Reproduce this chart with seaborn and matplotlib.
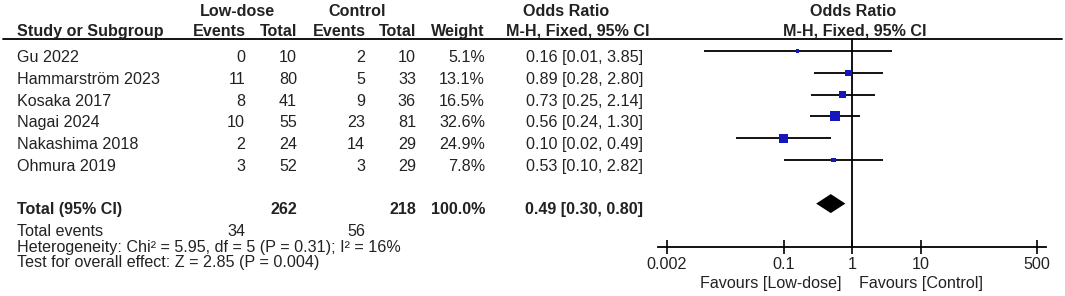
import matplotlib
matplotlib.use("Agg")
import matplotlib.pyplot as plt
import seaborn as sns
import pandas as pd
import numpy as np

# ---------------- data ----------------
studies = ["Gu 2022", "Hammarström 2023", "Kosaka 2017", "Nagai 2024",
           "Nakashima 2018", "Ohmura 2019"]
ld_events = [0, 11, 8, 10, 2, 3]
ld_total = [10, 80, 41, 55, 24, 52]
ctl_events = [2, 5, 9, 23, 14, 3]
ctl_total = [10, 33, 36, 81, 29, 29]
weights = [5.1, 13.1, 16.5, 32.6, 24.9, 7.8]
or_vals = [0.16, 0.89, 0.73, 0.56, 0.10, 0.53]
ci_low = [0.007, 0.28, 0.25, 0.24, 0.02, 0.10]
ci_high = [3.85, 2.80, 2.14, 1.30, 0.49, 2.82]

total_ld, total_ctl = 262, 218
total_ev_ld, total_ev_ctl = 34, 56
total_weight = 100.0
total_or, total_lo, total_hi = 0.49, 0.30, 0.80
hetero_text = "Heterogeneity: Chi² = 5.95, df = 5 (P = 0.31); I² = 16%"
overall_text = "Test for overall effect: Z = 2.85 (P = 0.004)"
tick_vals = [0.002, 0.1, 1, 10, 500]
tick_labels = ["0.002", "0.1", "1", "10", "500"]
fav_left, fav_right = "Favours [Low-dose]", "Favours [Control]"

# ---------------- style ----------------
sns.set_style("white")
plt.rcParams["font.family"] = ["Liberation Sans", "DejaVu Sans"]
FS = 11.6
TXT = "#222222"
BLUE = "#1616BE"

W, H = 1065, 296
fig = plt.figure(figsize=(W / 100, H / 100), dpi=100)

# text layer in pixel coordinates
ax_t = fig.add_axes([0, 0, 1, 1])
ax_t.set_xlim(0, W)
ax_t.set_ylim(H, 0)
ax_t.axis("off")

ROW0, STEP = 51.0, 21.8
def row_px(i):
    return ROW0 + STEP * i

n = len(studies)
rows = list(range(n))
total_row = n + 1

# forest axes
top_px, bot_px = 39, 247
left_px, right_px = 658, 1046
ax_f = fig.add_axes([left_px / W, (H - bot_px) / H, (right_px - left_px) / W,
                     (bot_px - top_px) / H])
ax_f.patch.set_alpha(0)
ax_f.set_xscale("log")
ppd = 68.5  # pixels per decade
c1 = 852
ax_f.set_xlim(10 ** ((left_px - c1) / ppd), 10 ** ((right_px - c1) / ppd))
ax_f.set_ylim((bot_px - ROW0) / STEP, (top_px - ROW0) / STEP)
for s in ["top", "left", "right"]:
    ax_f.spines[s].set_visible(False)
ax_f.spines["bottom"].set_linewidth(1.3)
ax_f.spines["bottom"].set_color("black")
ax_f.set_xticks(tick_vals)
ax_f.set_xticklabels(tick_labels, fontsize=FS, color=TXT)
ax_f.minorticks_off()
ax_f.tick_params(axis="x", direction="inout", length=10, width=1.2,
                 color="black", pad=2, bottom=True)
ax_f.set_yticks([])

# vertical line of no effect
ax_f.axvline(1, color="black", lw=1.3, zorder=1)
# CI lines
ax_f.hlines(rows, ci_low, ci_high, color="black", lw=1.3, zorder=2)
# squares
df = pd.DataFrame({"or": or_vals, "row": rows, "w": weights})
k = 1.59
sns.scatterplot(data=df, x="or", y="row", size="w",
                sizes=(k * min(weights), k * max(weights)),
                marker="s", color=BLUE, linewidth=0, legend=False,
                ax=ax_f, zorder=3)
ax_f.set_xlabel("")
ax_f.set_ylabel("")
# diamond
hh = 9.5 / STEP
ax_f.fill([total_lo, total_or, total_hi, total_or],
          [total_row, total_row - hh, total_row, total_row + hh],
          color="black", lw=0, zorder=3)

# header line
ax_t.plot([3, 1062], [39, 39], color="black", lw=1.3)

def t(x, y, s, ha="left", bold=False):
    ax_t.text(x, y, s, ha=ha, va="baseline", fontsize=FS, color=TXT,
              fontweight="bold" if bold else "normal")

# headers
t(237, 16, "Low-dose", "center", True)
t(357, 16, "Control", "center", True)
t(566, 16, "Odds Ratio", "center", True)
t(853, 16, "Odds Ratio", "center", True)
t(17, 36, "Study or Subgroup", "left", True)
t(246, 36, "Events", "right", True)
t(297, 36, "Total", "right", True)
t(366, 36, "Events", "right", True)
t(416, 36, "Total", "right", True)
t(485, 36, "Weight", "right", True)
t(578, 36, "M-H, Fixed, 95% CI", "center", True)
t(855, 36, "M-H, Fixed, 95% CI", "center", True)

# study rows
for i in rows:
    y = row_px(i) + 11
    t(17, y, studies[i])
    t(245, y, f"{ld_events[i]}", "right")
    t(297, y, f"{ld_total[i]}", "right")
    t(365, y, f"{ctl_events[i]}", "right")
    t(416, y, f"{ctl_total[i]}", "right")
    t(485, y, f"{weights[i]:.1f}%", "right")
    t(643, y, f"{or_vals[i]:.2f} [{ci_low[i]:.2f}, {ci_high[i]:.2f}]", "right")

# total row
yt = row_px(total_row) + 10
t(17, yt, "Total (95% CI)", "left", True)
t(297, yt, f"{total_ld}", "right", True)
t(416, yt, f"{total_ctl}", "right", True)
t(485, yt, f"{total_weight:.1f}%", "right", True)
t(643, yt, f"{total_or:.2f} [{total_lo:.2f}, {total_hi:.2f}]", "right", True)

t(17, 236, "Total events")
t(245, 236, f"{total_ev_ld}", "right")
t(365, 236, f"{total_ev_ctl}", "right")
t(17, 252, hetero_text)
t(17, 267, overall_text)

t(842, 288, fav_left, "right")
t(859, 288, fav_right, "left")

fig.savefig("out.png", dpi=100)
